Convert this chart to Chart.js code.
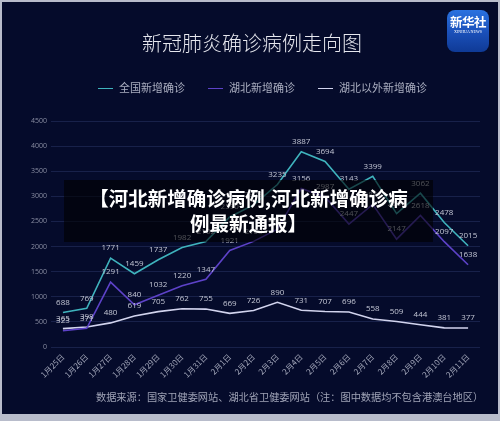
<!DOCTYPE html>
<html><head><meta charset="utf-8">
<script src="https://cdn.jsdelivr.net/npm/chart.js@4"></script>
<style>
html,body{margin:0;padding:0;}
body{width:500px;height:421px;position:relative;overflow:hidden;background:#b8bccb;font-family:"Noto Sans CJK SC","Noto Sans",sans-serif;}
#frame{position:absolute;left:2px;top:2px;width:496px;height:412px;background:#050b2b;}
#c{position:absolute;left:0;top:0;}
.t{position:absolute;white-space:nowrap;}
#title{left:0;width:504px;top:30px;text-align:center;font-size:20px;color:#e6e7ee;line-height:26px;font-weight:300;}
.lg{position:absolute;top:80px;font-size:11px;color:#a9adbf;line-height:14px;white-space:nowrap;}
.lg i{display:inline-block;width:15px;height:0;border-top:1.6px solid;vertical-align:middle;margin-right:6px;position:relative;top:-1px;}
#foot{left:96px;top:390px;font-size:10.2px;color:#9fa3b6;line-height:14px;}
#logo{position:absolute;left:447px;top:10px;width:42px;height:42px;border-radius:8px;background:linear-gradient(180deg,#2a72e0 0%,#1a4fb8 55%,#0f3a96 100%);color:#fff;text-align:center;overflow:hidden;}
#logo .a{font-size:12.5px;line-height:14px;margin-top:5px;font-weight:bold;letter-spacing:-0.5px;}
#logo .b{font-size:4px;line-height:5px;font-family:"Liberation Serif",serif;}
#banner{position:absolute;left:64px;top:180px;width:369px;height:62px;background:rgba(0,0,0,0.6);color:#fff;font-weight:bold;font-size:19.5px;line-height:25px;text-align:center;padding-top:5px;box-sizing:border-box;}
</style></head>
<body>
<div id="frame"></div>
<canvas id="c" width="500" height="421"></canvas>
<div class="t" id="title">新冠肺炎确诊病例走向图</div>
<div class="lg" style="left:98px"><i style="border-color:#3fb3bd"></i>全国新增确诊</div>
<div class="lg" style="left:208px"><i style="border-color:#5d42c8"></i>湖北新增确诊</div>
<div class="lg" style="left:318px"><i style="border-color:#d2d4ee"></i>湖北以外新增确诊</div>
<div id="logo"><div class="a">新华社</div><div class="b">XINHUA NEWS</div></div>
<div class="t" id="foot">数据来源：国家卫健委网站、湖北省卫健委网站（注：图中数据均不包含港澳台地区）</div>
<div id="banner">【河北新增确诊病例,河北新增确诊病<br>例最新通报】</div>
<script>
const categories = ["1月25日","1月26日","1月27日","1月28日","1月29日","1月30日","1月31日","2月1日","2月2日","2月3日","2月4日","2月5日","2月6日","2月7日","2月8日","2月9日","2月10日","2月11日"];
const nationalNew = [688,769,1771,1459,1737,1982,2102,2590,2829,3235,3887,3694,3143,3399,2656,3062,2478,2015];
const hubeiNew = [323,371,1291,840,1032,1220,1347,1921,2103,2345,3156,2987,2447,2841,2147,2618,2097,1638];
const outsideHubeiNew = [365,398,480,619,705,762,755,669,726,890,731,707,696,558,509,444,381,377];
const yTicks = [0,500,1000,1500,2000,2500,3000,3500,4000,4500];

const labelPlugin = {
  id:'valueLabels',
  afterDatasetsDraw(chart){
    const ctx = chart.ctx;
    ctx.save();
    ctx.font = '8px "Open Sans", sans-serif';
    ctx.fillStyle = '#c3c6d4';
    ctx.textAlign = 'center';
    ctx.textBaseline = 'bottom';
    chart.data.datasets.forEach((ds,i)=>{
      const meta = chart.getDatasetMeta(i);
      meta.data.forEach((pt,j)=>{
        ctx.fillText(String(ds.data[j]), pt.x, pt.y - 6);
      });
    });
    ctx.restore();
  }
};

new Chart(document.getElementById('c'), {
  type:'line',
  data:{
    labels:categories,
    datasets:[
      {label:'全国新增确诊',data:nationalNew,borderColor:'#3fb3bd',borderWidth:1.6,pointRadius:0,tension:0},
      {label:'湖北新增确诊',data:hubeiNew,borderColor:'#5d42c8',borderWidth:1.6,pointRadius:0,tension:0},
      {label:'湖北以外新增确诊',data:outsideHubeiNew,borderColor:'#d2d4ee',borderWidth:1.6,pointRadius:0,tension:0}
    ]
  },
  options:{
    responsive:false,
    animation:false,
    layout:{padding:{top:121,right:20,left:0,bottom:0}},
    plugins:{legend:{display:false},tooltip:{enabled:false}},
    scales:{
      x:{
        offset:true,
        grid:{display:false,drawTicks:false},
        border:{display:false},
        ticks:{color:'#a3a7ba',font:{size:8,family:'"Noto Sans CJK SC", sans-serif'},maxRotation:45,minRotation:45,autoSkip:false,padding:5},
        afterFit(s){ s.height = 74; }
      },
      y:{
        min:0,max:4500,
        afterBuildTicks(s){ s.ticks = yTicks.map(v=>({value:v})); },
        grid:{color:'#18214a',lineWidth:1,drawTicks:false},
        border:{display:false},
        ticks:{color:'#8a8ea3',font:{size:7,family:'"Open Sans", sans-serif'},padding:4,callback:v=>String(v)},
        afterFit(s){ s.width = 51; }
      }
    }
  },
  plugins:[labelPlugin]
});
</script>
</body></html>
